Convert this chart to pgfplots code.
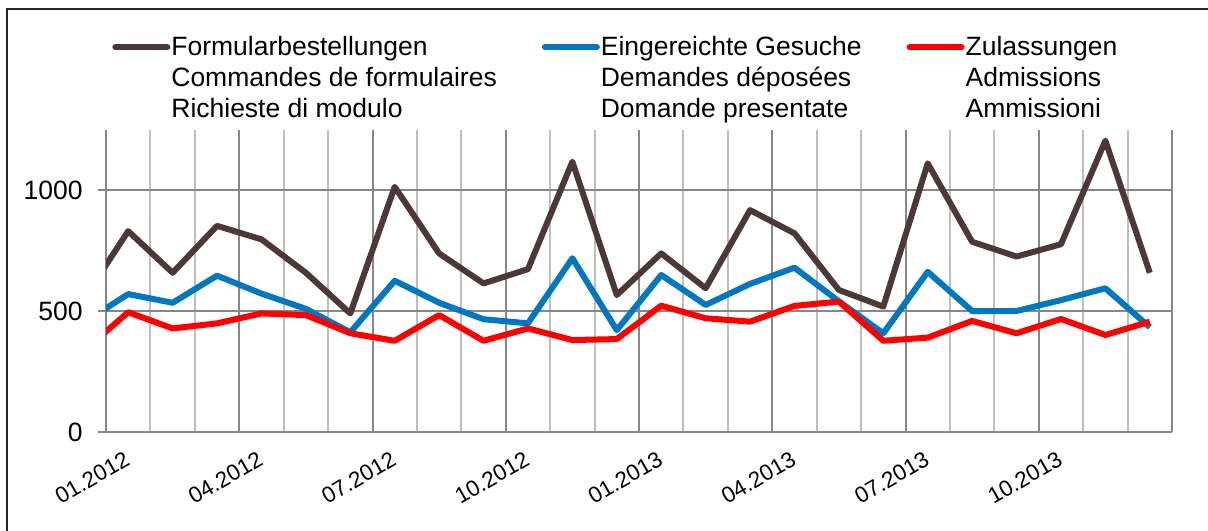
\documentclass[border=0pt]{standalone}
\usepackage{pgfplots}
\pgfplotsset{compat=1.18}
\usepackage{pgfplotstable}
\usepackage{fontspec}
\setmainfont{Liberation Sans}
\definecolor{cBrown}{HTML}{4D3839}
\definecolor{cBlue}{HTML}{0077C0}
\definecolor{cRed}{HTML}{FF0000}
\definecolor{gDark}{HTML}{878787}
\definecolor{gLight}{HTML}{BEBEBE}

\pgfplotstableread{
x  f    e    z
0  550  452  335
1  830  570  495
2  658  534  428
3  852  646  449
4  796  572  490
5  658  509  483
6  490  412  408
7  1013 625  377
8  738  534  483
9  614  466  377
10 673  449  428
11 1117 718  380
12 566  421  384
13 738  649  522
14 594  525  470
15 917  612  456
16 821  679  521
17 587  540  539
18 518  408  377
19 1110 662  390
20 786  500  459
21 725  500  408
22 776  545  467
23 1204 594  401
24 658  433  456
}\datatable

\begin{document}
\begin{tikzpicture}[font=\fontsize{13.25}{15.5}\selectfont]
\useasboundingbox (0,0) rectangle (604pt,265pt);
\draw[line width=0.9pt, black!85] (3.5pt,-10pt) -- (3.5pt,260.5pt) -- (620pt,260.5pt);
\begin{axis}[
  at={(53pt,49pt)}, anchor=south west,
  scale only axis, width=533pt, height=151pt,
  xmin=0.5, xmax=24.5, ymin=0, ymax=1248,
  axis x line*=bottom, axis y line*=left,
  axis line style={draw=gDark, line width=1pt, -},
  ytick={0,500,1000},
  ymajorgrids,
  major grid style={draw=gDark, line width=1pt},
  minor grid style={draw=gLight, line width=1pt},
  tick align=outside,
  major tick length=4pt,
  minor tick length=0pt,
  tick style={draw=gDark, line width=1pt},
  xtick={1,4,7,10,13,16,19,22},
  xticklabels={01.2012,04.2012,07.2012,10.2012,01.2013,04.2013,07.2013,10.2013},
  xtick style={draw=none},
  minor xtick={1.5,2.5,4.5,5.5,7.5,8.5,10.5,11.5,13.5,14.5,16.5,17.5,19.5,20.5,22.5,23.5},
  xminorgrids,
  extra x ticks={0.5,3.5,6.5,9.5,12.5,15.5,18.5,21.5,24.5},
  extra x tick labels={},
  extra x tick style={grid=major, major tick length=0pt},
  xticklabel style={font=\fontsize{11.25}{13}\selectfont, xshift=-2.35pt, yshift=-5pt, rotate=30, anchor=north east, inner sep=0pt},
  yticklabel style={anchor=east, inner sep=0pt, xshift=-7.5pt},
  /pgf/number format/assume math mode=true,
  /pgf/number format/1000 sep={},
  legend columns=3,
  legend style={at={(0.0056,1.3126)}, anchor=north west, draw=none, fill=none,
    inner sep=0pt, nodes={inner sep=0pt}, cells={anchor=base west},
    /tikz/every odd column/.append style={column sep=0.5pt},
    /tikz/every even column/.append style={column sep=22.5pt}},
  legend image code/.code={\draw[#1, line cap=round] (0pt,4pt) -- (26pt,4pt);},
  every axis plot/.append style={line width=3pt, line join=round},
]
\addplot[cBrown] table[x=x,y=f] {\datatable};
\addplot[cBlue] table[x=x,y=e] {\datatable};
\addplot[cRed] table[x=x,y=z] {\datatable};
\legend{\vtop{\hbox{Formularbestellungen}\hbox{Commandes de formulaires}\hbox{Richieste di modulo}},
  \vtop{\hbox{Eingereichte Gesuche}\hbox{Demandes déposées}\hbox{Domande presentate}},
  \vtop{\hbox{Zulassungen}\hbox{Admissions}\hbox{Ammissioni}}}
\end{axis}
\end{tikzpicture}
\end{document}
